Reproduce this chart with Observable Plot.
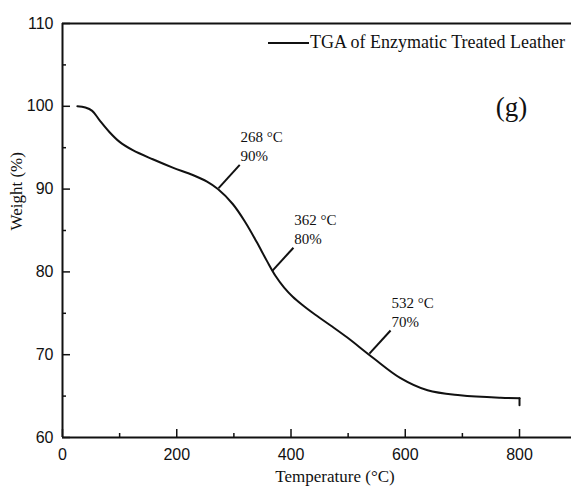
<!DOCTYPE html>
<html>
<head>
<meta charset="utf-8">
<script src="https://cdn.jsdelivr.net/npm/d3@7"></script>
<script src="https://cdn.jsdelivr.net/npm/@observablehq/plot@0.6"></script>
<style>
  html, body { margin: 0; padding: 0; background: #fff; }
  #wrap { position: relative; width: 571px; height: 486px; }
  #legend { position: absolute; left: 268px; top: 32px; font-family: "Liberation Serif", serif; font-size: 18px; color: #111; white-space: nowrap; display: flex; align-items: center; }
  #legend .sw { display: inline-block; width: 41px; height: 0; border-top: 2px solid #111; margin-right: 1px; }
</style>
</head>
<body>
<div id="wrap"><div id="legend"><span class="sw"></span><span id="legtext"></span></div></div>
<script>
const seriesName = "TGA of Enzymatic Treated Leather";
const temperature = [26, 40, 52, 65, 82, 100, 123, 158, 193, 228, 253, 272, 298, 320, 340, 358, 373, 388, 403, 420, 439, 470, 498, 544, 591, 639, 696, 767, 800, 800];
const weight = [100, 99.85, 99.45, 98.3, 96.9, 95.7, 94.7, 93.6, 92.6, 91.7, 90.9, 90.0, 88.2, 86.0, 83.6, 81.3, 79.5, 78.1, 77.0, 76.0, 75.0, 73.5, 72.1, 69.6, 67.2, 65.7, 65.1, 64.8, 64.75, 63.9];
const annoTemp = [268, 362, 532];
const annoWeight = [90, 80, 70];
const xMajor = [0, 200, 400, 600, 800];
const xMinor = [100, 300, 500, 700];
const yMajor = [60, 70, 80, 90, 100, 110];
const yMinor = [65, 75, 85, 95, 105];
const xLabel = "Temperature (°C)";
const yLabel = "Weight (%)";
const panelTag = "(g)";

const data = temperature.map((t, i) => ({t, w: weight[i]}));
const mainCurve = data.slice(0, -1);
const endDrop = data.slice(-2);
const anno = annoTemp.map((t, i) => ({t, w: annoWeight[i], label: `${t} °C\n${annoWeight[i]}%`}));

document.getElementById("legtext").textContent = seriesName;

const sans = "Liberation Sans, Arial, sans-serif";
const serif = "Liberation Serif, Times New Roman, serif";

const chart = Plot.plot({
  width: 571,
  height: 486,
  marginLeft: 62,
  marginRight: 0,
  marginTop: 23,
  marginBottom: 49,
  style: {fontFamily: sans, fontSize: "16px", color: "#111", background: "white", overflow: "visible"},
  x: {domain: [0, 891]},
  y: {domain: [60, 110]},
  marks: [
    Plot.axisX({ticks: xMajor, tickSize: 0, tickPadding: 11, fontSize: 16, label: null, fontFamily: sans}),
    Plot.axisX({ticks: xMajor, tickSize: -8, tickFormat: () => "", label: null, strokeWidth: 1.5}),
    Plot.axisX({ticks: xMinor, tickSize: -4, tickFormat: () => "", label: null, strokeWidth: 1.5}),
    Plot.axisY({ticks: yMajor, tickSize: 0, tickPadding: 9, fontSize: 16, label: null, fontFamily: sans}),
    Plot.axisY({ticks: yMajor, tickSize: -8, tickFormat: () => "", label: null, strokeWidth: 1.5}),
    Plot.axisY({ticks: yMinor, tickSize: -4, tickFormat: () => "", label: null, strokeWidth: 1.5}),
    Plot.ruleY([60, 110], {stroke: "#111", strokeWidth: 2}),
    Plot.ruleX([0], {stroke: "#111", strokeWidth: 2}),
    Plot.line(mainCurve, {x: "t", y: "w", curve: "catmull-rom", stroke: "#111", strokeWidth: 2}),
    Plot.line(endDrop, {x: "t", y: "w", curve: "linear", stroke: "#111", strokeWidth: 2}),
    Plot.link(anno, {x1: "t", y1: "w", x2: d => d.t + 37, y2: d => d.w + 2.8, stroke: "#111", strokeWidth: 2, dx: 3, dy: -1}),
    Plot.text(anno, {x: "t", y: "w", text: "label", textAnchor: "start", lineAnchor: "bottom", dx: 25, dy: -28, fontFamily: serif, fontSize: 15, lineHeight: 1.25, fill: "#111"}),
    Plot.text([panelTag], {frameAnchor: "top-right", textAnchor: "middle", lineAnchor: "middle", dx: -60, dy: 84, fontFamily: serif, fontSize: 27, fill: "#111"}),
    Plot.text([xLabel], {frameAnchor: "bottom", lineAnchor: "middle", dx: 18, dy: 39, fontFamily: serif, fontSize: 17, fill: "#111"}),
    Plot.text([yLabel], {frameAnchor: "left", lineAnchor: "middle", rotate: -90, dx: -46, fontFamily: serif, fontSize: 17, fill: "#111"})
  ]
});
document.getElementById("wrap").prepend(chart);
</script>
</body>
</html>
